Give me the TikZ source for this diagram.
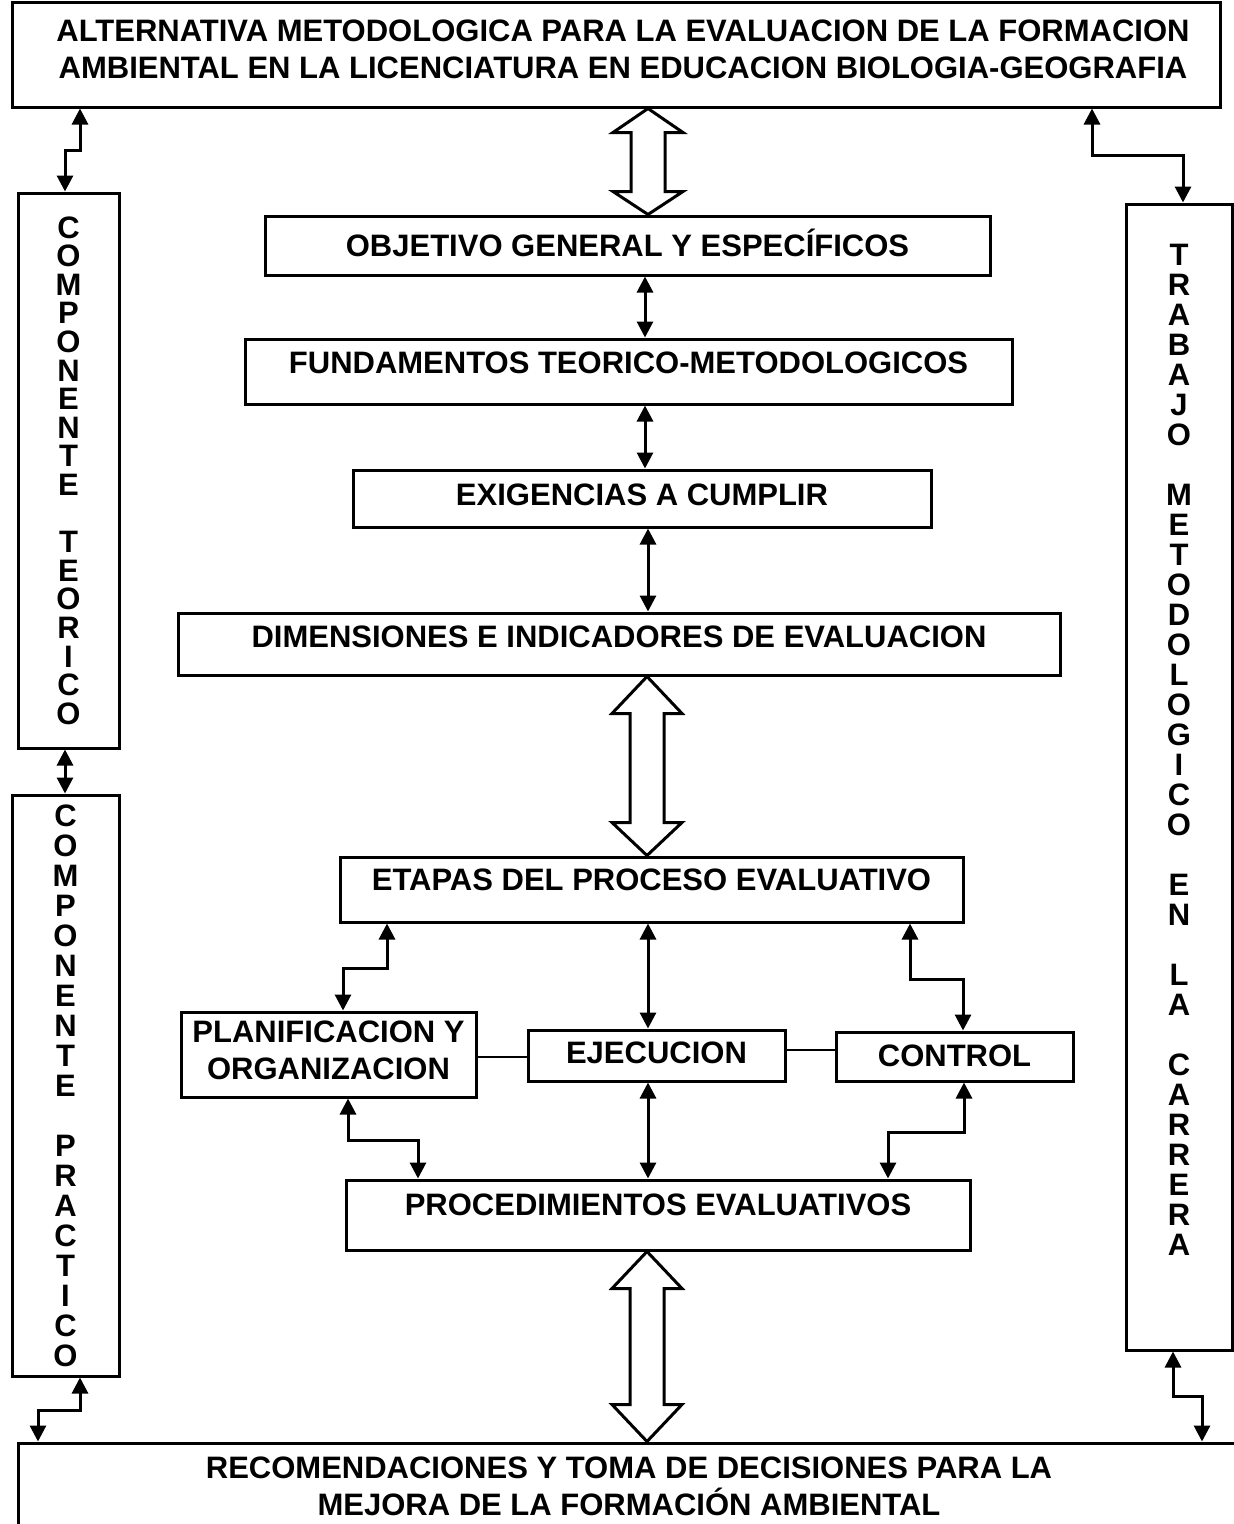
\documentclass[tikz,border=0pt]{standalone}
\usepackage{fontspec}
\setmainfont{Liberation Sans}
\usetikzlibrary{arrows.meta,calc}
\tikzset{
  box/.style={draw, line width=3pt, inner sep=0pt, align=center,
    font=\fontsize{31}{37}\selectfont\bfseries},
  vbox/.style={draw, line width=3pt, inner sep=0pt, align=center,
    font=\fontsize{31}{#1}\selectfont\bfseries},
  dbl/.style={line width=3pt, >={Triangle[width=16pt,length=16pt]}, <->},
  plain/.style={line width=2.5pt},
  hollow/.style={line width=3pt, fill=white, line join=miter},
}
\newcommand\dblhollow[4]{% from, to, head length top, head length bottom
  \draw[hollow] let \p1=(#1), \p2=(#2) in
    (\x1,\y1) -- (\x1+35pt,\y1-#3) -- (\x1+17pt,\y1-#3) -- (\x1+17pt,\y2+#4)
    -- (\x1+35pt,\y2+#4) -- (\x2,\y2) -- (\x1-35pt,\y2+#4) -- (\x1-17pt,\y2+#4)
    -- (\x1-17pt,\y1-#3) -- (\x1-35pt,\y1-#3) -- cycle;}
\begin{document}
\begin{tikzpicture}[x=1pt,y=-1pt]
\useasboundingbox (0,0) rectangle (1234,1524);
\fill[white] (0,0) rectangle (1234,1524);

% title
\node[box, minimum width=1208pt, minimum height=105pt, text depth=11pt] (title) at (616,54.5)
  {\hspace*{14pt}ALTERNATIVA METODOLOGICA PARA LA EVALUACION DE LA FORMACION\\\hspace*{14pt}AMBIENTAL EN LA LICENCIATURA EN EDUCACION BIOLOGIA-GEOGRAFIA};

% side boxes
\node[vbox=28.6, minimum width=101pt, minimum height=555pt] (left1) at (68.5,470.5)
  {C\\O\\M\\P\\O\\N\\E\\N\\T\\E\\\mbox{}\\T\\E\\O\\R\\I\\C\\O};
\node[vbox=30, minimum width=107pt, minimum height=581pt] (left2) at (65.5,1085.5)
  {C\\O\\M\\P\\O\\N\\E\\N\\T\\E\\\mbox{}\\P\\R\\A\\C\\T\\I\\C\\O};
\node[vbox=30, minimum width=106pt, minimum height=1146pt, text depth=54pt] (right) at (1179,777)
  {T\\R\\A\\B\\A\\J\\O\\\mbox{}\\M\\E\\T\\O\\D\\O\\L\\O\\G\\I\\C\\O\\\mbox{}\\E\\N\\\mbox{}\\L\\A\\\mbox{}\\C\\A\\R\\R\\E\\R\\A};

% central boxes
\node[box, minimum width=725pt, minimum height=59pt, text depth=5pt] (obj) at (627.5,245.5)
  {OBJETIVO GENERAL Y ESPECÍFICOS};
\node[box, minimum width=767pt, minimum height=65pt, text depth=17pt] (fund) at (628.5,371.5)
  {FUNDAMENTOS TEORICO-METODOLOGICOS};
\node[box, minimum width=578pt, minimum height=57pt, text depth=7pt] (exig) at (642,498.5)
  {EXIGENCIAS A CUMPLIR};
\node[box, minimum width=882pt, minimum height=62pt, text depth=14pt] (dim) at (619,644)
  {DIMENSIONES E INDICADORES DE EVALUACION};
\node[box, minimum width=623pt, minimum height=65pt, text depth=19pt] (etapas) at (651.5,889.5)
  {ETAPAS DEL PROCESO EVALUATIVO};
\node[box, minimum width=295pt, minimum height=85pt, text depth=8pt] (plan) at (328.5,1054.5)
  {PLANIFICACION Y\\ORGANIZACION};
\node[box, minimum width=257pt, minimum height=51pt, text depth=5pt] (ejec) at (656.5,1055.5)
  {EJECUCION};
\node[box, minimum width=237pt, minimum height=49pt, text depth=2pt] (control) at (954.5,1056.5)
  {CONTROL};
\node[box, minimum width=624pt, minimum height=70pt, text depth=20pt] (proc) at (658,1215)
  {PROCEDIMIENTOS EVALUATIVOS};
\node[box, minimum width=1222pt, minimum height=87pt] (bottom) at (629,1486.5)
  {RECOMENDACIONES Y TOMA DE DECISIONES PARA LA\\MEJORA DE LA FORMACIÓN AMBIENTAL};

% hollow double arrows
\dblhollow{title.south -| 648,0}{obj.north -| 648,0}{24pt}{23pt}
\dblhollow{dim.south -| 647,0}{etapas.north -| 647,0}{37pt}{33pt}
\dblhollow{proc.south -| 647,0}{bottom.north -| 647,0}{37pt}{37pt}

% side connectors
\draw[dbl] (title.south -| 80,0) |- (65,150) -- (left1.north -| 65,0);
\draw[dbl] (title.south -| 1092,0) |- (1183,155) -- (right.north -| 1183,0);
\draw[dbl] (left1.south -| 65,0) -- (left2.north -| 65,0);
\draw[dbl] (left2.south -| 80,0) |- (38,1410) -- (bottom.north -| 38,0);
\draw[dbl] (right.south -| 1173,0) |- (1202,1396) -- (bottom.north -| 1202,0);

% central connectors
\draw[dbl] (obj.south -| 645,0) -- (fund.north -| 645,0);
\draw[dbl] (fund.south -| 645,0) -- (exig.north -| 645,0);
\draw[dbl] (exig.south -| 648,0) -- (dim.north -| 648,0);
\draw[dbl] (etapas.south -| 387,0) |- (343,968) -- (plan.north -| 343,0);
\draw[dbl] (etapas.south -| 648,0) -- (ejec.north -| 648,0);
\draw[dbl] (etapas.south -| 910,0) |- (963,979) -- (control.north -| 963,0);
\draw[dbl] (plan.south -| 348,0) |- (418,1140) -- (proc.north -| 418,0);
\draw[dbl] (ejec.south -| 648,0) -- (proc.north -| 648,0);
\draw[dbl] (control.south -| 964,0) |- (888,1132) -- (proc.north -| 888,0);
\draw[plain] (plan.east |- 0,1057) -- (ejec.west |- 0,1057);
\draw[plain] (ejec.east |- 0,1050) -- (control.west |- 0,1050);
\end{tikzpicture}
\end{document}
